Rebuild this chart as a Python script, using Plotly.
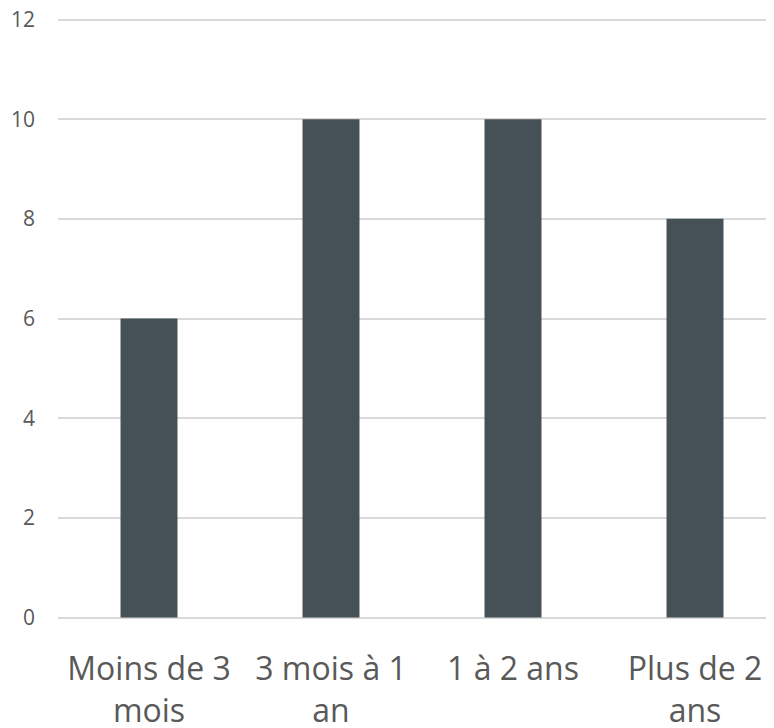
import plotly.graph_objects as go

categories = ["Moins de 3<br>mois", "3 mois à 1<br>an", "1 à 2 ans", "Plus de 2<br>ans"]
values = [6, 10, 10, 8]
y_ticks = [0, 2, 4, 6, 8, 10, 12]

fig = go.Figure()
fig.add_trace(go.Bar(
    x=list(range(len(categories))),
    y=values,
    width=0.313,
    marker=dict(color="#465157", line=dict(width=0)),
))

fig.update_layout(
    width=774, height=728,
    margin=dict(l=50, r=8, t=10, b=117),
    paper_bgcolor="white", plot_bgcolor="white",
    showlegend=False,
    font=dict(family="Open Sans", color="#595959"),
    xaxis=dict(
        range=[-0.5, 3.434],
        tickmode="array",
        tickvals=list(range(len(categories))),
        ticktext=categories,
        tickfont=dict(size=32, color="#595959"),
        showgrid=False, zeroline=False, showline=False,
        ticks="", ticklabelstandoff=28,
        automargin=False,
    ),
    yaxis=dict(
        range=[-0.03, 12.03],
        tickmode="array",
        tickvals=y_ticks,
        tickfont=dict(size=21, color="#595959"),
        showgrid=True, gridcolor="#d9d9d9", gridwidth=1.5,
        zeroline=False, showline=False,
        ticks="", ticklabelstandoff=22,
        ticklabeloverflow="allow",
        automargin=False,
    ),
)

fig.write_html("out.html")
